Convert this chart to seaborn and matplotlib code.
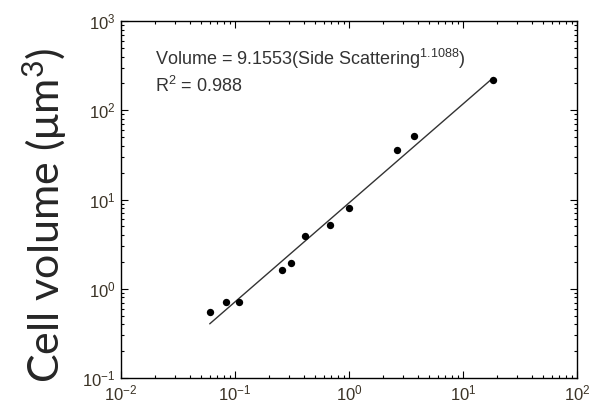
import matplotlib
matplotlib.use("Agg")
import numpy as np
import pandas as pd
import seaborn as sns
import matplotlib.pyplot as plt
from matplotlib.ticker import LogLocator, NullFormatter

# data
side_scatter = [0.060, 0.083, 0.108, 0.258, 0.31, 0.41, 0.68, 1.0, 2.64, 3.7, 18.3]
cell_volume = [0.55, 0.71, 0.71, 1.62, 1.95, 3.9, 5.2, 8.0, 35.9, 51.4, 218]
fit_coef = 9.1553
fit_exp = 1.1088
fit_r2 = 0.988
fit_x = [0.06, 18.5]

sns.set_style("ticks")
plt.rcParams['font.family'] = ['Liberation Sans', 'DejaVu Sans']
plt.rcParams['mathtext.default'] = 'regular'

df = pd.DataFrame({"x": side_scatter, "y": cell_volume})
fit_df = pd.DataFrame({"x": fit_x})
fit_df["y"] = fit_coef * np.array(fit_x) ** fit_exp

fig = plt.figure(figsize=(5.96, 4.08), dpi=100)
ax = fig.add_axes([121 / 596, 30 / 408, 456 / 596, 357 / 408])

sns.lineplot(data=fit_df, x="x", y="y", ax=ax, color="#333333", lw=1.0)
sns.scatterplot(data=df, x="x", y="y", ax=ax, color="black", s=28,
                edgecolor="black", linewidth=0, zorder=3)

ax.set_xscale("log")
ax.set_yscale("log")
ax.set_xlim(1e-2, 1e2)
ax.set_ylim(1e-1, 1e3)

for a in (ax.xaxis, ax.yaxis):
    a.set_major_locator(LogLocator(base=10, numticks=10))
    a.set_minor_locator(LogLocator(base=10, subs=np.arange(2, 10), numticks=10))
    a.set_minor_formatter(NullFormatter())

ax.tick_params(which="both", direction="in", top=True, right=True,
               colors="black", labelcolor="#3b3326", width=0.8)
ax.tick_params(which="major", length=5, labelsize=12, pad=4)
ax.tick_params(which="minor", length=2.5)
for sp in ax.spines.values():
    sp.set_visible(True)
    sp.set_linewidth(1.0)
    sp.set_color("black")

ax.set_xlabel("")
ax.set_ylabel("")

ax.text(0.075, 0.877, f"Volume = {fit_coef}(Side Scattering$^{{{fit_exp}}}$)",
        transform=ax.transAxes, fontsize=13, color="#333333")
ax.text(0.075, 0.80, f"R$^{{2}}$ = {fit_r2}",
        transform=ax.transAxes, fontsize=13, color="#333333")

fig.text(45 / 596, 1 - 215 / 408, "Cell volume (μm$^{3}$)", rotation=90,
         ha="center", va="center", fontsize=31, family=["Lato", "DejaVu Sans"])

fig.savefig("out.png", dpi=100)
plt.close()
